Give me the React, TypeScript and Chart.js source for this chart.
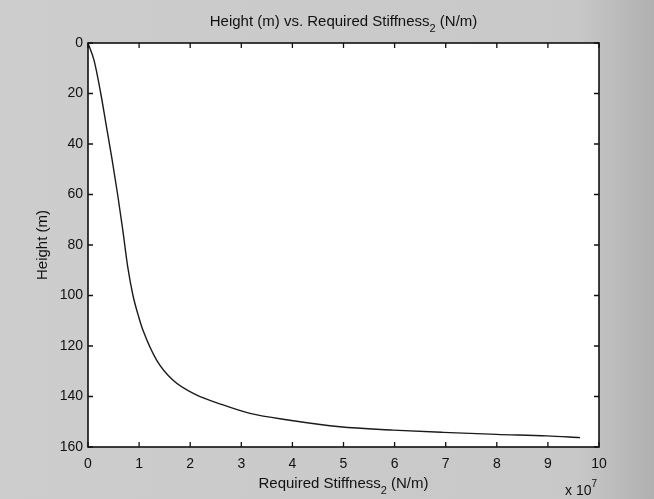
import React, { useEffect, useRef } from "react";
import { Chart, registerables } from "chart.js";

Chart.register(...registerables);

// Required stiffness, in units of 10^7 N/m
const stiffness = [0, 0.12, 0.25, 0.36, 0.47, 0.58, 0.68, 0.78, 0.88, 1.0, 1.08, 1.34, 1.66, 2.12, 2.55, 3.17, 3.95, 4.93, 5.97, 6.95, 8.0, 8.98, 9.63];
// Height above base, metres
const height = [0, 7, 20, 33, 46, 60, 74, 89, 100, 109, 114, 125.5, 133.5, 139.4, 142.7, 146.7, 149.4, 152, 153.3, 154.2, 155, 155.6, 156.3];

const xTicks = [0, 1, 2, 3, 4, 5, 6, 7, 8, 9, 10];
const yTicks = [0, 20, 40, 60, 80, 100, 120, 140, 160];

const FONT = "'Liberation Sans', Arial, sans-serif";

type Part = { t: string; sub?: boolean; sup?: boolean };

function drawParts(ctx: CanvasRenderingContext2D, parts: Part[], x: number, y: number, align: "center" | "left", size: number) {
  const small = Math.round(size * 0.7);
  const widths = parts.map((p) => {
    ctx.font = `${p.sub || p.sup ? small : size}px ${FONT}`;
    return ctx.measureText(p.t).width;
  });
  const total = widths.reduce((a, b) => a + b, 0);
  let cx = align === "center" ? x - total / 2 : x;
  ctx.textAlign = "left";
  ctx.textBaseline = "alphabetic";
  parts.forEach((p, i) => {
    ctx.font = `${p.sub || p.sup ? small : size}px ${FONT}`;
    const dy = p.sub ? size * 0.38 : p.sup ? -size * 0.6 : 0;
    ctx.fillText(p.t, cx, y + dy);
    cx += widths[i];
  });
}

const framePlugin = {
  id: "matlabFrame",
  beforeDraw(chart: any) {
    const { ctx, width, height: h, chartArea: a } = chart;
    ctx.save();
    const g = ctx.createLinearGradient(0, 0, width, 0);
    g.addColorStop(0, "#cdcdcd");
    g.addColorStop(0.88, "#c8c8c8");
    g.addColorStop(1, "#b0b0b0");
    ctx.fillStyle = g;
    ctx.fillRect(0, 0, width, h);
    ctx.fillStyle = "#ffffff";
    ctx.fillRect(a.left, a.top, a.right - a.left, a.bottom - a.top);
    ctx.restore();
  },
  afterDraw(chart: any) {
    const { ctx, chartArea: a, scales } = chart;
    const xs = scales.x;
    const ys = scales.y;
    const tl = 5;
    ctx.save();
    ctx.strokeStyle = "#111";
    ctx.lineWidth = 1.6;
    ctx.strokeRect(a.left, a.top, a.right - a.left, a.bottom - a.top);
    ctx.lineWidth = 1.3;
    ctx.beginPath();
    xTicks.forEach((v) => {
      const px = xs.getPixelForValue(v);
      ctx.moveTo(px, a.bottom);
      ctx.lineTo(px, a.bottom - tl);
      ctx.moveTo(px, a.top);
      ctx.lineTo(px, a.top + tl);
    });
    yTicks.forEach((v) => {
      const py = ys.getPixelForValue(v);
      ctx.moveTo(a.left, py);
      ctx.lineTo(a.left + tl, py);
      ctx.moveTo(a.right, py);
      ctx.lineTo(a.right - tl, py);
    });
    ctx.stroke();

    ctx.fillStyle = "#111";
    const cx = (a.left + a.right) / 2;
    drawParts(ctx, [{ t: "Height (m) vs. Required Stiffness" }, { t: "2", sub: true }, { t: " (N/m)" }], cx, 26, "center", 15);
    drawParts(ctx, [{ t: "Required Stiffness" }, { t: "2", sub: true }, { t: " (N/m)" }], cx, 488, "center", 15);
    drawParts(ctx, [{ t: "x 10" }, { t: "7", sup: true }], 565, 495, "left", 14);

    ctx.save();
    ctx.translate(47, (a.top + a.bottom) / 2);
    ctx.rotate(-Math.PI / 2);
    drawParts(ctx, [{ t: "Height (m)" }], 0, 0, "center", 15);
    ctx.restore();
    ctx.restore();
  },
};

export default function App() {
  const ref = useRef<HTMLCanvasElement>(null);

  useEffect(() => {
    document.body.style.margin = "0";
    const pts = stiffness.map((x, i) => ({ x, y: height[i] }));
    const chart = new Chart(ref.current!, {
      type: "scatter",
      data: {
        datasets: [
          {
            data: pts,
            showLine: true,
            borderColor: "#1a1a1a",
            borderWidth: 1.4,
            pointRadius: 0,
            cubicInterpolationMode: "monotone",
            fill: false,
          },
        ],
      },
      options: {
        animation: false,
        responsive: false,
        events: [],
        layout: { padding: { left: 0, right: 55, top: 43, bottom: 0 } },
        plugins: { legend: { display: false }, tooltip: { enabled: false } },
        scales: {
          x: {
            type: "linear",
            min: 0,
            max: 10,
            afterBuildTicks: (s: any) => {
              s.ticks = xTicks.map((v) => ({ value: v }));
            },
            afterFit: (s: any) => {
              s.height = 52;
            },
            grid: { display: false, drawTicks: false },
            border: { display: false },
            ticks: { color: "#111", font: { family: FONT, size: 14 }, padding: 9, maxRotation: 0 },
          },
          y: {
            type: "linear",
            reverse: true,
            min: 0,
            max: 160,
            afterBuildTicks: (s: any) => {
              s.ticks = yTicks.map((v) => ({ value: v }));
            },
            afterFit: (s: any) => {
              s.width = 88;
            },
            grid: { display: false, drawTicks: false },
            border: { display: false },
            ticks: { color: "#111", font: { family: FONT, size: 14 }, padding: 5 },
          },
        },
      },
      plugins: [framePlugin],
    } as any);
    return () => chart.destroy();
  }, []);

  return (
    <div style={{ position: "absolute", left: 0, top: 0, width: 654, height: 499 }}>
      <canvas ref={ref} width={654} height={499} style={{ width: 654, height: 499, display: "block" }} />
    </div>
  );
}
